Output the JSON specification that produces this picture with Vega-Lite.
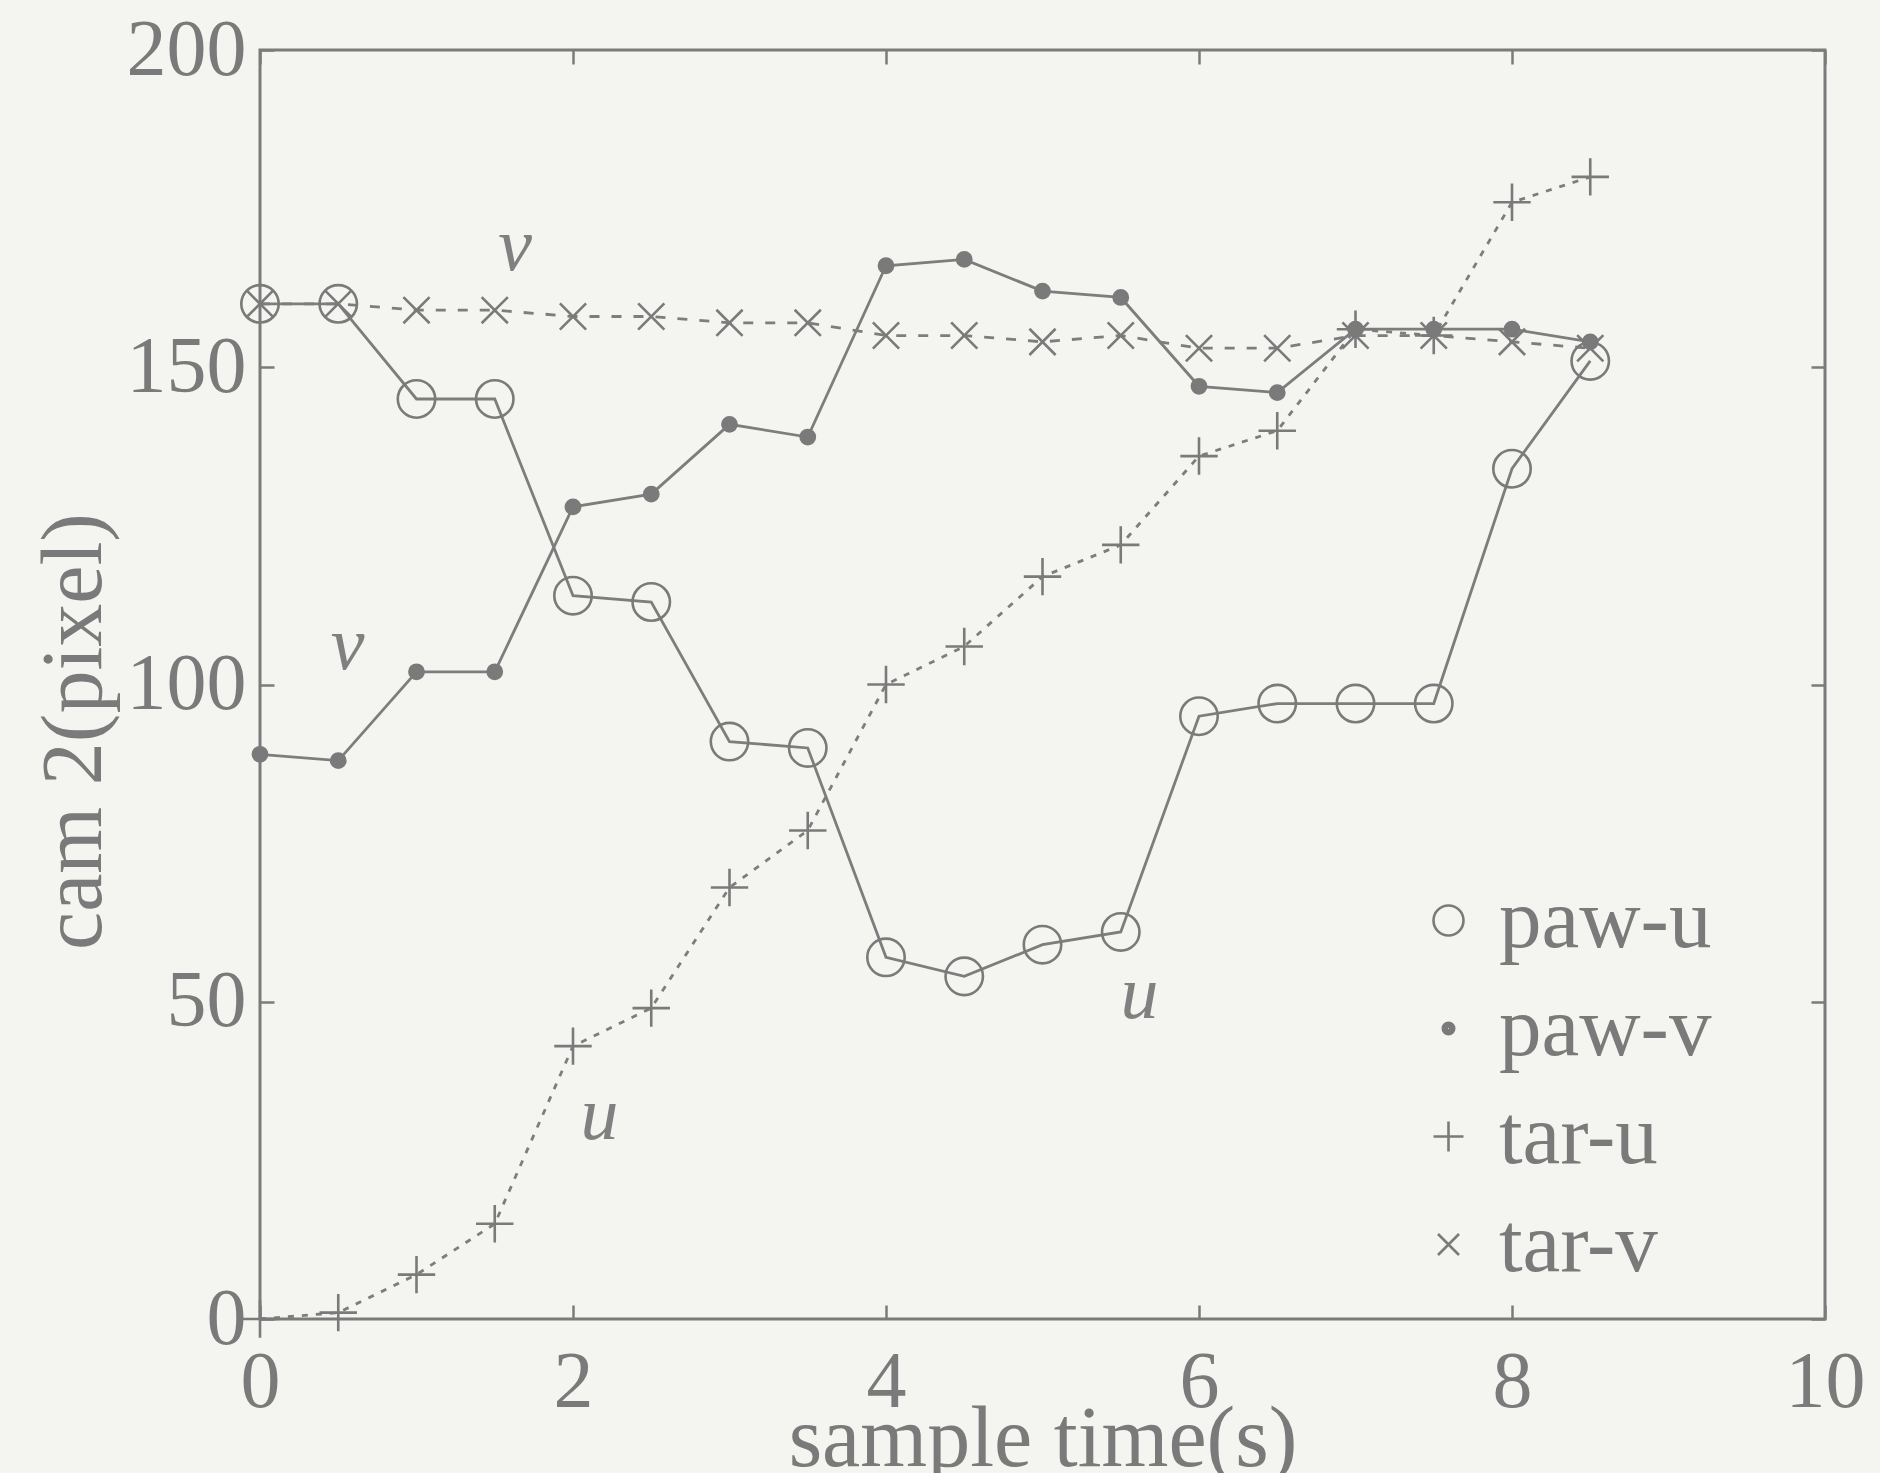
{
  "$schema": "https://vega.github.io/schema/vega-lite/v6.json",
  "width": 1565,
  "height": 1269,
  "autosize": {"type": "none"},
  "padding": {"left": 260, "top": 50, "right": 55, "bottom": 154},
  "background": "#f4f4f1",
  "config": {
    "view": {"stroke": "#7b7b7b", "strokeWidth": 3},
    "font": "Liberation Serif",
    "axis": {
      "domain": false, "grid": false, "ticks": true, "tickSize": -14, "tickColor": "#7b7b7b", "tickWidth": 2.5,
      "labelFont": "Liberation Serif", "labelFontSize": 80, "labelColor": "#7a7a7a", "labelFlush": false, "labelOverlap": false,
      "titleFont": "Liberation Serif", "titleFontSize": 86, "titleColor": "#7a7a7a", "titleFontWeight": "normal"
    },
    "legend": {"labelFont": "Liberation Serif", "labelFontSize": 85, "labelColor": "#7a7a7a", "labelLimit": 0}
  },
  "datasets": {
    "main": [
      {"series": "paw-u", "t": 0, "value": 160},
      {"series": "paw-u", "t": 0.5, "value": 160},
      {"series": "paw-u", "t": 1, "value": 145},
      {"series": "paw-u", "t": 1.5, "value": 145},
      {"series": "paw-u", "t": 2, "value": 114},
      {"series": "paw-u", "t": 2.5, "value": 113},
      {"series": "paw-u", "t": 3, "value": 91},
      {"series": "paw-u", "t": 3.5, "value": 90},
      {"series": "paw-u", "t": 4, "value": 57},
      {"series": "paw-u", "t": 4.5, "value": 54},
      {"series": "paw-u", "t": 5, "value": 59},
      {"series": "paw-u", "t": 5.5, "value": 61},
      {"series": "paw-u", "t": 6, "value": 95},
      {"series": "paw-u", "t": 6.5, "value": 97},
      {"series": "paw-u", "t": 7, "value": 97},
      {"series": "paw-u", "t": 7.5, "value": 97},
      {"series": "paw-u", "t": 8, "value": 134},
      {"series": "paw-u", "t": 8.5, "value": 151},
      {"series": "paw-v", "t": 0, "value": 89},
      {"series": "paw-v", "t": 0.5, "value": 88},
      {"series": "paw-v", "t": 1, "value": 102},
      {"series": "paw-v", "t": 1.5, "value": 102},
      {"series": "paw-v", "t": 2, "value": 128},
      {"series": "paw-v", "t": 2.5, "value": 130},
      {"series": "paw-v", "t": 3, "value": 141},
      {"series": "paw-v", "t": 3.5, "value": 139},
      {"series": "paw-v", "t": 4, "value": 166},
      {"series": "paw-v", "t": 4.5, "value": 167},
      {"series": "paw-v", "t": 5, "value": 162},
      {"series": "paw-v", "t": 5.5, "value": 161},
      {"series": "paw-v", "t": 6, "value": 147},
      {"series": "paw-v", "t": 6.5, "value": 146},
      {"series": "paw-v", "t": 7, "value": 156},
      {"series": "paw-v", "t": 7.5, "value": 156},
      {"series": "paw-v", "t": 8, "value": 156},
      {"series": "paw-v", "t": 8.5, "value": 154},
      {"series": "tar-u", "t": 0, "value": 0},
      {"series": "tar-u", "t": 0.5, "value": 1},
      {"series": "tar-u", "t": 1, "value": 7},
      {"series": "tar-u", "t": 1.5, "value": 15},
      {"series": "tar-u", "t": 2, "value": 43},
      {"series": "tar-u", "t": 2.5, "value": 49},
      {"series": "tar-u", "t": 3, "value": 68},
      {"series": "tar-u", "t": 3.5, "value": 77},
      {"series": "tar-u", "t": 4, "value": 100},
      {"series": "tar-u", "t": 4.5, "value": 106},
      {"series": "tar-u", "t": 5, "value": 117},
      {"series": "tar-u", "t": 5.5, "value": 122},
      {"series": "tar-u", "t": 6, "value": 136},
      {"series": "tar-u", "t": 6.5, "value": 140},
      {"series": "tar-u", "t": 7, "value": 156},
      {"series": "tar-u", "t": 7.5, "value": 155},
      {"series": "tar-u", "t": 8, "value": 176},
      {"series": "tar-u", "t": 8.5, "value": 180},
      {"series": "tar-v", "t": 0, "value": 160},
      {"series": "tar-v", "t": 0.5, "value": 160},
      {"series": "tar-v", "t": 1, "value": 159},
      {"series": "tar-v", "t": 1.5, "value": 159},
      {"series": "tar-v", "t": 2, "value": 158},
      {"series": "tar-v", "t": 2.5, "value": 158},
      {"series": "tar-v", "t": 3, "value": 157},
      {"series": "tar-v", "t": 3.5, "value": 157},
      {"series": "tar-v", "t": 4, "value": 155},
      {"series": "tar-v", "t": 4.5, "value": 155},
      {"series": "tar-v", "t": 5, "value": 154},
      {"series": "tar-v", "t": 5.5, "value": 155},
      {"series": "tar-v", "t": 6, "value": 153},
      {"series": "tar-v", "t": 6.5, "value": 153},
      {"series": "tar-v", "t": 7, "value": 155},
      {"series": "tar-v", "t": 7.5, "value": 155},
      {"series": "tar-v", "t": 8, "value": 154},
      {"series": "tar-v", "t": 8.5, "value": 153}
    ],
    "notes": [
      {"t": 1.63, "value": 169, "label": "v"},
      {"t": 0.56, "value": 106, "label": "v"},
      {"t": 2.17, "value": 32, "label": "u"},
      {"t": 5.62, "value": 51, "label": "u"}
    ]
  },
  "layer": [
    {
      "data": {"name": "main"},
      "transform": [{"filter": "datum.series === 'paw-u' || datum.series === 'paw-v'"}],
      "mark": {"type": "line", "strokeWidth": 2.8, "color": "#7d7d7d"},
      "encoding": {
        "x": {
          "field": "t", "type": "quantitative",
          "scale": {"domain": [0, 10], "nice": false, "zero": false},
          "axis": {"values": [0, 2, 4, 6, 8, 10], "title": "sample time(s)", "labelPadding": 38, "titleY": 146, "titleBaseline": "alphabetic"}
        },
        "y": {
          "field": "value", "type": "quantitative",
          "scale": {"domain": [0, 200], "nice": false, "zero": false},
          "axis": {"values": [0, 50, 100, 150, 200], "title": "cam 2(pixel)", "labelPadding": 28, "titleX": -186, "titleY": 681, "titleBaseline": "middle", "titleAngle": -90, "titleAlign": "center"}
        },
        "detail": {"field": "series", "type": "nominal"},
        "order": {"field": "t", "type": "quantitative"}
      }
    },
    {
      "data": {"name": "main"},
      "transform": [{"filter": "datum.series === 'tar-u'"}],
      "mark": {"type": "line", "strokeWidth": 2.8, "color": "#7d7d7d", "strokeDash": [6, 8]},
      "encoding": {
        "x": {"field": "t", "type": "quantitative", "axis": null},
        "y": {"field": "value", "type": "quantitative", "axis": null},
        "order": {"field": "t", "type": "quantitative"}
      }
    },
    {
      "data": {"name": "main"},
      "transform": [{"filter": "datum.series === 'tar-v'"}],
      "mark": {"type": "line", "strokeWidth": 2.8, "color": "#7d7d7d", "strokeDash": [10, 12]},
      "encoding": {
        "x": {"field": "t", "type": "quantitative", "axis": null},
        "y": {"field": "value", "type": "quantitative", "axis": null},
        "order": {"field": "t", "type": "quantitative"}
      }
    },
    {
      "data": {"name": "main"},
      "mark": {"type": "point", "filled": false, "color": "#7a7a7a", "strokeWidth": 2.6, "size": 1400, "opacity": 1},
      "encoding": {
        "x": {"field": "t", "type": "quantitative", "axis": null},
        "y": {"field": "value", "type": "quantitative", "axis": null},
        "shape": {
          "field": "series", "type": "nominal",
          "scale": {
            "domain": ["paw-u", "paw-v", "tar-u", "tar-v"],
            "range": [
              "M1,0A1,1,0,1,1,-1,0A1,1,0,1,1,1,0Z",
              "M0.38,0A0.38,0.38,0,1,1,-0.38,0A0.38,0.38,0,1,1,0.38,0ZM0.25,0A0.25,0.25,0,1,1,-0.25,0A0.25,0.25,0,1,1,0.25,0ZM0.12,0A0.12,0.12,0,1,1,-0.12,0A0.12,0.12,0,1,1,0.12,0Z",
              "M-1,0L1,0M0,-1L0,1",
              "M-0.7,-0.7L0.7,0.7M-0.7,0.7L0.7,-0.7"
            ]
          },
          "legend": {
            "title": null,
            "orient": "none",
            "legendX": 1146,
            "legendY": 828,
            "symbolSize": 900,
            "symbolStrokeColor": "#7a7a7a",
            "symbolStrokeWidth": 2.6,
            "labelOffset": 8,
            "rowPadding": 22
          }
        }
      }
    },
    {
      "data": {"name": "notes"},
      "mark": {"type": "text", "fontStyle": "italic", "fontSize": 76, "color": "#808080", "font": "Liberation Serif", "baseline": "middle", "align": "center"},
      "encoding": {
        "x": {"field": "t", "type": "quantitative", "axis": {"orient": "top", "labels": false, "title": null, "values": [0, 2, 4, 6, 8, 10]}},
        "y": {"field": "value", "type": "quantitative", "axis": {"orient": "right", "labels": false, "title": null, "values": [0, 50, 100, 150, 200]}},
        "text": {"field": "label", "type": "nominal"}
      }
    }
  ],
  "resolve": {"axis": {"x": "independent", "y": "independent"}}
}
